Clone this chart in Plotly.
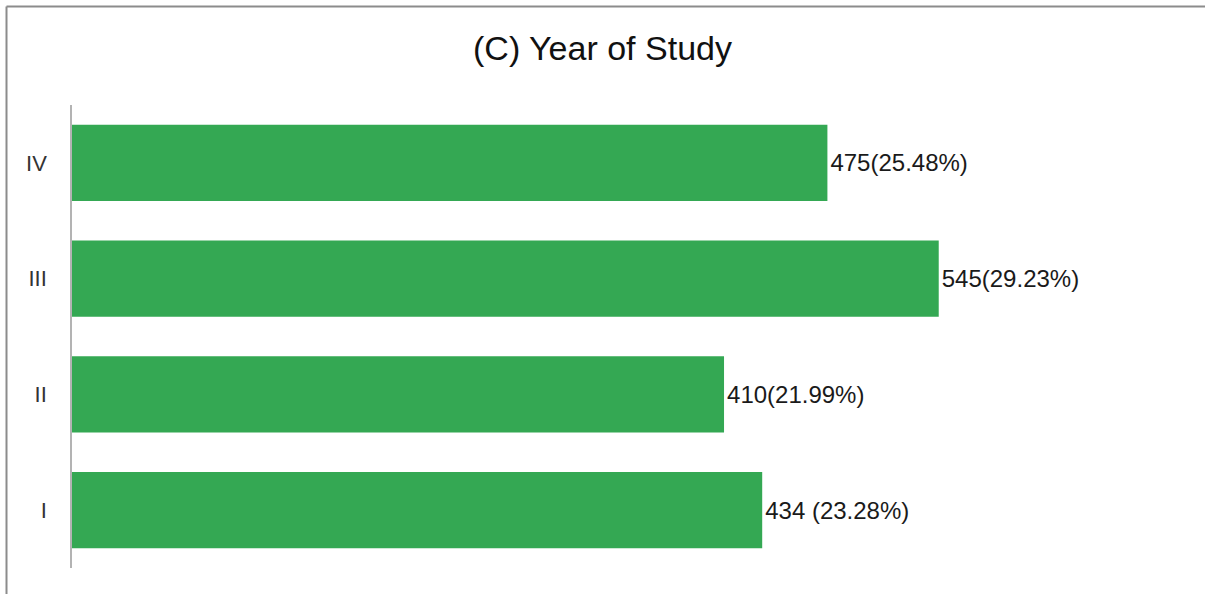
import plotly.graph_objects as go

years = ["I", "II", "III", "IV"]
counts = [434, 410, 545, 475]
labels = ["434 (23.28%)", "410(21.99%)", "545(29.23%)", "475(25.48%)"]

bar_color = "#34a853"

fig = go.Figure()
fig.add_trace(
    go.Bar(
        x=counts,
        y=years,
        orientation="h",
        marker=dict(color=bar_color, line=dict(width=0)),
        text=labels,
        textposition="outside",
        textfont=dict(size=24, color="#1a1a1a", family="Liberation Sans, Arial"),
        cliponaxis=False,
        hoverinfo="skip",
    )
)

fig.update_layout(
    width=1205,
    height=594,
    margin=dict(l=72, r=15, t=105, b=26),
    paper_bgcolor="white",
    plot_bgcolor="white",
    bargap=0.34,
    showlegend=False,
    font=dict(family="Liberation Sans, Arial", color="#333333"),
    title=dict(
        text="(C) Year of Study",
        x=0.5,
        xanchor="center",
        xref="container",
        y=1 - 48 / 594,
        yref="container",
        yanchor="middle",
        font=dict(size=34, color="#111111"),
    ),
)

fig.update_xaxes(
    range=[0, 703],
    showgrid=False,
    zeroline=False,
    showticklabels=False,
    showline=False,
)
fig.update_yaxes(
    showgrid=False,
    zeroline=False,
    showline=True,
    linecolor="#b3b3b3",
    linewidth=1.5,
    ticks="",
    ticklabelstandoff=19,
    tickfont=dict(size=22, color="#333333"),
)

# outer frame: only top and left edges are visible in the reference
fx0 = (6.5 - 72) / 1118
fy1 = 1 + (105 - 6.5) / 463
frame = dict(color="#8c8c8c", width=2)
fig.add_shape(type="line", xref="paper", yref="paper",
              x0=fx0, x1=(1240 - 72) / 1118, y0=fy1, y1=fy1, line=frame)
fig.add_shape(type="line", xref="paper", yref="paper",
              x0=fx0, x1=fx0, y0=-0.2, y1=fy1, line=frame)

fig.write_html(
    "out.html",
    config={"displayModeBar": False},
    post_script="document.body.style.margin='0';document.body.style.overflow='hidden';",
)
